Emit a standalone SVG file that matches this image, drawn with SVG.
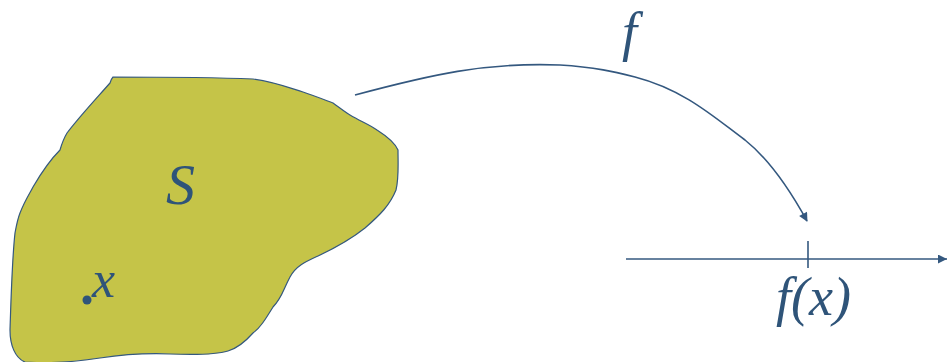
<svg xmlns="http://www.w3.org/2000/svg" width="948" height="362" viewBox="0 0 948 362">
<style>
.ln{fill:none;stroke:#34587F;stroke-width:1.6}
.t{font-family:"Liberation Serif","Times New Roman",serif;font-style:italic;fill:#2F5479}
</style>
<defs>
<marker id="ah" viewBox="0 0 10 10" refX="9" refY="5" markerWidth="10" markerHeight="9" orient="auto" markerUnits="userSpaceOnUse">
<path d="M0,0 L10,5 L0,10 z" fill="#34587F"/>
</marker>
<marker id="ah2" viewBox="0 0 10 10" refX="10" refY="5" markerWidth="10" markerHeight="9" orient="auto" markerUnits="userSpaceOnUse">
<path d="M0,0 L10,5 L0,10 z" fill="#34587F"/>
</marker>
</defs>
<g id="set-S">
<path d="M113,77 C150,77 230,78 253,79 C275,82 290,88 303,92 C315,96 325,100 333,103 C340,108 345,112 350,115 C360,121 370,125 377,130 C388,137 395,143 398,150 C398,165 399,178 396,190 C390,205 380,215 365,228 C350,240 335,248 318,256 C305,262 296,266 290,277 C283,290 282,298 273,307 C265,320 260,328 253,333 C245,342 238,348 228,351 C215,355 195,355 170,354 C145,353 120,355 100,358 C80,361 50,364 25,362 C15,358 10,345 10,330 C11,300 12,260 15,233 C17,222 18,218 20,213 C25,200 30,193 33,187 C40,175 50,160 60,150 C62,143 64,138 67,133 C80,116 95,100 110,83 C111,80 112,78 113,77 Z" fill="#C5C448" stroke="#34587F" stroke-width="1.2"/>
<text class="t" x="166" y="204" font-size="58">S</text>
</g>
<g id="point-x">
<circle cx="87" cy="300" r="4.5" fill="#2F5479"/>
<text class="t" x="92" y="297" font-size="52">x</text>
</g>
<g id="axis">
<text class="t" x="776" y="315" font-size="54">f(x)</text>
</g>
<g id="connectors">
<path class="ln" d="M626,259 L947,259" marker-end="url(#ah2)"/>
<path class="ln" d="M808,241 L808,268"/>
<path class="ln" d="M355,95 C430,75 485,62 560,65 C595,67 615,72 635,77 C685,90 715,118 745,140 C770,160 790,190 807,221" marker-end="url(#ah)"/>
<text class="t" x="622" y="50" font-size="54">f</text>
</g>
</svg>
